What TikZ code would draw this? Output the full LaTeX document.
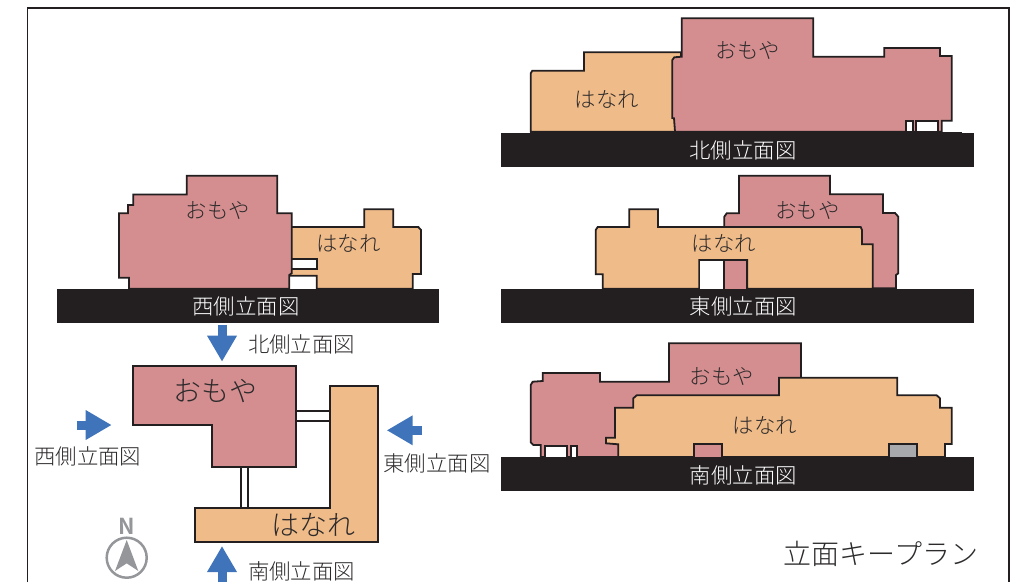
\documentclass[tikz,border=0pt]{standalone}
\usepackage{fontspec}
\setmainfont{Noto Sans CJK JP}[UprightFont=* Light]
\usepackage{xcolor}
\definecolor{omoyapink}{RGB}{212,142,144}
\definecolor{hanareorange}{RGB}{239,187,136}
\definecolor{grounddark}{RGB}{35,31,32}
\definecolor{arrowblue}{RGB}{63,116,186}
\definecolor{doorgrey}{RGB}{167,169,172}
\definecolor{compassgrey}{RGB}{148,150,153}
\definecolor{textdark}{RGB}{45,42,43}
\usetikzlibrary{arrows.meta}
\tikzset{
    outline/.style={draw=grounddark, line width=1.8pt, line join=miter},
    omoya/.style={outline, fill=omoyapink},
    hanare/.style={outline, fill=hanareorange},
    hole/.style={outline, fill=white},
    ground/.style={fill=grounddark},
    small/.style={text=textdark, font=\fontsize{21.4}{21.4}\selectfont, inner sep=0pt},
    large/.style={text=textdark, font=\fontsize{28}{28}\selectfont, inner sep=0pt},
    caption/.style={text=white, font=\fontsize{21.4}{21.4}\selectfont, inner sep=0pt},
    viewarrow/.style={line width=9pt, arrowblue, -{Triangle[length=26pt, width=28pt]}}
}
\begin{document}
\begin{tikzpicture}[x=1pt, y=-1pt]
      \useasboundingbox (0,0) rectangle (1032,582);
      \draw[line width=1.8pt, grounddark] (27.5,582) -- (27.5,8) -- (1009,8) -- (1009,582);

      % north
      \path[hanare] (530.7,131.7) -- (530.7,73.3) -- (532.3,70.7) -- (584,70.7) -- (584,52.3) -- (681,52.3) -- (681,131.7) -- cycle;
      \path[omoya] (681.7,18.3) -- (813.3,18.3) -- (813.3,56.7) -- (884.3,56.7) -- (884.3,48) -- (940,48) -- (940,56) -- (951.7,56) -- (951.7,120.7) -- (941.7,120.7) -- (941.7,131.7) -- (675,131.7) -- (674,118.3) -- (672.3,118) -- (672.3,60) -- (674.3,57.3) -- (681.7,56.7) -- cycle;
      \path[hole] (905.7,120.7) rectangle (912.7,132);
      \path[hole] (915.7,120.7) rectangle (937.7,132);
      \draw[line width=1pt, grounddark] (530,132) -- (962,132);
      \path[ground] (501,133) rectangle (974,167);
      \node[small] (north-omoya) at (748,50.7) {おもや};
      \node[small] (north-hanare) at (606.7,99.3) {はなれ};
      \node[caption] (north-caption) at (743,150) {北側立面図};

      % east
      \path[omoya] (739,175.7) -- (830,175.7) -- (830,194.3) -- (883,194.3) -- (883,213) -- (895,213) -- (898.3,216.7) -- (898.3,273.3) -- (896,275) -- (896,288.3) -- (724.3,288.3) -- (724.3,216.7) -- (726.7,213.3) -- (739,213.3) -- cycle;
      \path[hanare] (602.7,288.7) -- (602.7,274.3) -- (595.7,274.3) -- (595.7,230) -- (597.7,227) -- (629.3,227) -- (629.3,209.3) -- (658,209.3) -- (658,227) -- (860.7,227) -- (862,230) -- (862,244.3) -- (872.7,244.3) -- (872.7,288.7) -- (747.3,288.7) -- (747.3,260) -- (699.3,260) -- (699.3,288.7) -- cycle;
      \path[fill=white] (700.2,260.9) rectangle (724.3,289);
      \path[omoya] (724.3,289) -- (724.3,260) -- (747.3,260) -- (747.3,289);
      \path[ground] (501,289) rectangle (974,322.7);
      \node[small] (east-omoya) at (807.3,210) {おもや};
      \node[small] (east-hanare) at (724,243.3) {はなれ};
      \node[caption] (east-caption) at (743.3,306) {東側立面図};

      % south
      \path[omoya] (669,343.3) -- (801,343.3) -- (801,395) -- (618.3,457) -- (540.7,457) -- (540.7,445) -- (533.3,445) -- (530.7,442.3) -- (530.7,385) -- (532.7,381.7) -- (542.7,381) -- (542.7,373) -- (600,373) -- (600,381.7) -- (669,381.7) -- cycle;
      \path[hole] (545,445.7) rectangle (566.7,458);
      \path[hole] (571,445.7) rectangle (576.7,458);
      \path[hanare] (618.3,457) -- (618.3,444.3) -- (606,443.3) -- (606,437.7) -- (615,437.7) -- (615,407.7) -- (633.3,407.7) -- (633.3,398.3) -- (636.7,395.3) -- (779,395.3) -- (779,377.7) -- (897.3,377.7) -- (897.3,395.3) -- (936.7,395.3) -- (940,398.3) -- (940,407.7) -- (951.7,407.7) -- (951.7,444) -- (945,444) -- (945,457) -- cycle;
      \path[outline, fill=omoyapink] (694,458) -- (694,444.3) -- (722,444.3) -- (722,458);
      \path[outline, fill=doorgrey] (889.3,458) -- (889.3,444.3) -- (916.7,444.3) -- (916.7,458);
      \path[ground] (501,457) rectangle (974,490.7);
      \node[small] (south-omoya) at (721.7,376.7) {おもや};
      \node[small] (south-hanare) at (765,425) {はなれ};
      \node[caption] (south-caption) at (743.3,475) {南側立面図};

      % west
      \path[hanare] (285,227) -- (364.3,227) -- (364.3,209.3) -- (393.3,209.3) -- (393.3,227) -- (418.3,227) -- (421,230) -- (421,274) -- (412.7,274) -- (412.7,288.7) -- (316.7,288.7) -- (316.7,275.7) -- (285,275.7) -- cycle;
      \path[hole] (285,259) rectangle (316.7,269);
      \path[omoya] (129,288.7) -- (129,277.7) -- (119,277.7) -- (119,213.3) -- (128,213.3) -- (128,205) -- (133.3,205) -- (133.3,194.5) -- (186.7,194.5) -- (186.7,175.7) -- (277.3,175.7) -- (277.3,213.3) -- (291.7,213.3) -- (291.7,273.3) -- (289.3,275) -- (289.3,288.7) -- cycle;
      \path[ground] (56.7,289) rectangle (438.7,322.7);
      \node[small] (west-omoya) at (218,210) {おもや};
      \node[small] (west-hanare) at (348.3,243.3) {はなれ};
      \node[caption] (west-caption) at (246,306) {西側立面図};

      % key plan
      \draw[outline] (296,411) -- (330,411) (296,421) -- (330,421);
      \draw[outline] (240.7,467.3) -- (240.7,508) (247.7,467.3) -- (247.7,508);
      \path[omoya] (132.7,366) -- (296,366) -- (296,467.3) -- (212,467.3) -- (212,425) -- (132.7,425) -- cycle;
      \path[hanare] (330,386) -- (378,386) -- (378,542.3) -- (194.7,542.3) -- (194.7,508) -- (330,508) -- cycle;
      \node[large] (plan-omoya) at (215,391.2) {おもや};
      \node[large] (plan-hanare) at (313,525) {はなれ};

      \coordinate (arrow-north-start) at (222,324.5);
      \coordinate (arrow-north-end) at (222,361.7);
      \coordinate (arrow-south-start) at (222,582);
      \coordinate (arrow-south-end) at (222,546);
      \coordinate (arrow-west-start) at (76.7,425);
      \coordinate (arrow-west-end) at (111.7,425);
      \coordinate (arrow-east-start) at (421.7,430.3);
      \coordinate (arrow-east-end) at (386.7,430.3);
      \draw[viewarrow] (arrow-north-start) -- (arrow-north-end);
      \draw[viewarrow] (arrow-south-start) -- (arrow-south-end);
      \draw[viewarrow] (arrow-west-start) -- (arrow-west-end);
      \draw[viewarrow] (arrow-east-start) -- (arrow-east-end);

      \node[small] (label-north) at (301.5,344.3) {北側立面図};
      \node[small] (label-west) at (87.8,456) {西側立面図};
      \node[small] (label-east) at (437,463.3) {東側立面図};
      \node[small] (label-south) at (301.5,571) {南側立面図};

      % compass
      \node[text=compassgrey, font=\fontsize{22}{22}\selectfont\bfseries, inner sep=0pt] (compass-n) at (126.7,526.5) {N};
      \draw[compassgrey, line width=2.5pt] (126.7,557.7) circle[radius=20];
      \fill[compassgrey] (126.7,540) -- (115,571) -- (126.7,563.3) -- (138.3,571) -- cycle;

      \node[text=textdark, font=\fontsize{28}{28}\selectfont, inner sep=0pt] (title) at (881,554) {立面キープラン};
\end{tikzpicture}
\end{document}
